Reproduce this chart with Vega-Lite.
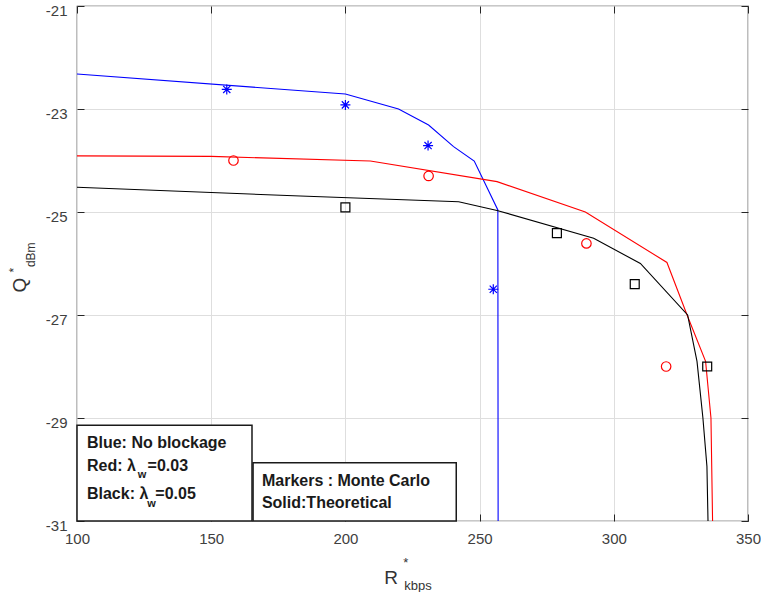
{
  "$schema": "https://vega.github.io/schema/vega-lite/v6.json",
  "width": 671,
  "height": 515,
  "autosize": {"type": "none"},
  "padding": {"left": 77, "top": 6, "right": 13, "bottom": 71},
  "background": "white",
  "config": {
    "view": {"stroke": "#262626", "strokeWidth": 1.2},
    "font": "Liberation Sans",
    "axis": {
      "labelFont": "Liberation Sans",
      "labelFontSize": 15,
      "labelColor": "#404040",
      "tickColor": "#262626",
      "gridColor": "#dedede",
      "gridWidth": 1,
      "domain": false,
      "title": null,
      "labelFlush": false,
      "labelOverlap": false
    }
  },
  "datasets": {
    "theory": [
      {"series": "No blockage", "R": 100, "Q": -22.32},
      {"series": "No blockage", "R": 200, "Q": -22.71},
      {"series": "No blockage", "R": 219.8, "Q": -23.0},
      {"series": "No blockage", "R": 231, "Q": -23.31},
      {"series": "No blockage", "R": 240.3, "Q": -23.73},
      {"series": "No blockage", "R": 248, "Q": -24.01},
      {"series": "No blockage", "R": 256.8, "Q": -24.96},
      {"series": "No blockage", "R": 256.9, "Q": -31},
      {"series": "λw=0.03", "R": 100, "Q": -23.91},
      {"series": "λw=0.03", "R": 150, "Q": -23.92},
      {"series": "λw=0.03", "R": 209.3, "Q": -24.01},
      {"series": "λw=0.03", "R": 256.5, "Q": -24.41},
      {"series": "λw=0.03", "R": 289.4, "Q": -25.0},
      {"series": "λw=0.03", "R": 319.8, "Q": -25.98},
      {"series": "λw=0.03", "R": 327.3, "Q": -27.0},
      {"series": "λw=0.03", "R": 334.2, "Q": -27.9},
      {"series": "λw=0.03", "R": 336.2, "Q": -29.0},
      {"series": "λw=0.03", "R": 336.8, "Q": -31},
      {"series": "λw=0.05", "R": 100, "Q": -24.52},
      {"series": "λw=0.05", "R": 183.2, "Q": -24.69},
      {"series": "λw=0.05", "R": 242.2, "Q": -24.8},
      {"series": "λw=0.05", "R": 256.5, "Q": -24.97},
      {"series": "λw=0.05", "R": 292.5, "Q": -25.51},
      {"series": "λw=0.05", "R": 309.9, "Q": -26.0},
      {"series": "λw=0.05", "R": 327.5, "Q": -27.0},
      {"series": "λw=0.05", "R": 331.0, "Q": -27.9},
      {"series": "λw=0.05", "R": 333.2, "Q": -29.0},
      {"series": "λw=0.05", "R": 334.7, "Q": -29.94},
      {"series": "λw=0.05", "R": 335.1, "Q": -31}
    ],
    "montecarlo": [
      {"series": "No blockage", "R": 155.8, "Q": -22.62},
      {"series": "No blockage", "R": 200, "Q": -22.92},
      {"series": "No blockage", "R": 230.8, "Q": -23.71},
      {"series": "No blockage", "R": 255.1, "Q": -26.5},
      {"series": "λw=0.03", "R": 158.3, "Q": -24.0},
      {"series": "λw=0.03", "R": 231, "Q": -24.3},
      {"series": "λw=0.03", "R": 289.8, "Q": -25.61},
      {"series": "λw=0.03", "R": 319.5, "Q": -28.0},
      {"series": "λw=0.05", "R": 200, "Q": -24.91},
      {"series": "λw=0.05", "R": 278.8, "Q": -25.41},
      {"series": "λw=0.05", "R": 307.8, "Q": -26.4},
      {"series": "λw=0.05", "R": 334.8, "Q": -28.0}
    ],
    "boxes": [
      {"R1": 100, "R2": 165.2, "Q1": -31, "Q2": -29.14},
      {"R1": 165.6, "R2": 241.3, "Q1": -31, "Q2": -29.87}
    ],
    "legendText": [
      {"R": 103.7, "Q": -29.59, "text": "Blue: No blockage"},
      {"R": 103.7, "Q": -30.03, "text": "Red: λ"},
      {"R": 126.3, "Q": -30.03, "text": "=0.03"},
      {"R": 103.7, "Q": -30.57, "text": "Black: λ"},
      {"R": 129.2, "Q": -30.57, "text": "=0.05"},
      {"R": 168.9, "Q": -30.32, "text": "Markers : Monte Carlo"},
      {"R": 168.9, "Q": -30.75, "text": "Solid:Theoretical"}
    ],
    "legendSub": [
      {"R": 122.6, "Q": -30.17, "text": "w"},
      {"R": 126.2, "Q": -30.73, "text": "w"}
    ],
    "xTitleBig": [
      {"R": 214.5, "Q": -32.22, "text": "R"}
    ],
    "xTitleSmall": [
      {"R": 221.9, "Q": -32.34, "text": "kbps"},
      {"R": 221.6, "Q": -31.9, "text": "*"}
    ],
    "yTitleBig": [
      {"R": 81.0, "Q": -26.42, "text": "Q"}
    ],
    "yTitleSmall": [
      {"R": 84.5, "Q": -25.83, "text": "dBm"},
      {"R": 77.9, "Q": -26.13, "text": "*"}
    ]
  },
  "resolve": {"axis": {"x": "independent", "y": "independent"}},
  "layer": [
    {
      "data": {"name": "theory"},
      "mark": {"type": "line", "strokeWidth": 1.1},
      "encoding": {
        "x": {"field": "R", "type": "quantitative",
              "scale": {"domain": [100, 350], "nice": false, "zero": false},
              "axis": {"orient": "bottom", "values": [100, 150, 200, 250, 300, 350], "grid": true, "tickSize": -7, "labelPadding": 17}},
        "y": {"field": "Q", "type": "quantitative",
              "scale": {"domain": [-31, -21], "nice": false, "zero": false},
              "axis": {"orient": "left", "values": [-31, -29, -27, -25, -23, -21], "grid": true, "tickSize": -7, "labelPadding": 17, "labelOffset": 4, "labelExpr": "'' + datum.value"}},
        "color": {"field": "series", "type": "nominal",
                  "scale": {"domain": ["No blockage", "λw=0.03", "λw=0.05"], "range": ["#0000ff", "#ff0000", "#000000"]},
                  "legend": null}
      }
    },
    {
      "data": {"name": "montecarlo"},
      "mark": {"type": "point", "filled": false, "strokeWidth": 1.2, "opacity": 1},
      "encoding": {
        "x": {"field": "R", "type": "quantitative",
              "scale": {"domain": [100, 350], "nice": false, "zero": false},
              "axis": {"orient": "top", "values": [100, 150, 200, 250, 300, 350], "grid": false, "labels": false, "tickSize": -7}},
        "y": {"field": "Q", "type": "quantitative",
              "scale": {"domain": [-31, -21], "nice": false, "zero": false},
              "axis": {"orient": "right", "values": [-31, -29, -27, -25, -23, -21], "grid": false, "labels": false, "tickSize": -7}},
        "color": {"field": "series", "type": "nominal",
                  "scale": {"domain": ["No blockage", "λw=0.03", "λw=0.05"], "range": ["#0000ff", "#ff0000", "#000000"]},
                  "legend": null},
        "shape": {"field": "series", "type": "nominal",
                  "scale": {"domain": ["No blockage", "λw=0.03", "λw=0.05"], "range": ["M-1,0L1,0M0,-1L0,1M-0.72,-0.72L0.72,0.72M-0.72,0.72L0.72,-0.72", "circle", "square"]},
                  "legend": null},
        "size": {"field": "series", "type": "nominal",
                 "scale": {"domain": ["No blockage", "λw=0.03", "λw=0.05"], "range": [100, 80, 60]},
                 "legend": null}
      }
    },
    {
      "data": {"name": "boxes"},
      "mark": {"type": "rect", "fill": "white", "stroke": "#1a1a1a", "strokeWidth": 1.5},
      "encoding": {
        "x": {"field": "R1", "type": "quantitative", "scale": {"domain": [100, 350], "nice": false, "zero": false}, "axis": null},
        "x2": {"field": "R2"},
        "y": {"field": "Q1", "type": "quantitative", "scale": {"domain": [-31, -21], "nice": false, "zero": false}, "axis": null},
        "y2": {"field": "Q2"}
      }
    },
    {
      "data": {"name": "legendText"},
      "mark": {"type": "text", "font": "Liberation Sans", "fontWeight": "bold", "fontSize": 16, "align": "left", "baseline": "alphabetic", "color": "#1a1a1a"},
      "encoding": {
        "x": {"field": "R", "type": "quantitative", "scale": {"domain": [100, 350], "nice": false, "zero": false}, "axis": null},
        "y": {"field": "Q", "type": "quantitative", "scale": {"domain": [-31, -21], "nice": false, "zero": false}, "axis": null},
        "text": {"field": "text"}
      }
    },
    {
      "data": {"name": "legendSub"},
      "mark": {"type": "text", "font": "Liberation Sans", "fontWeight": "bold", "fontSize": 11, "align": "left", "baseline": "alphabetic", "color": "#1a1a1a"},
      "encoding": {
        "x": {"field": "R", "type": "quantitative", "scale": {"domain": [100, 350], "nice": false, "zero": false}, "axis": null},
        "y": {"field": "Q", "type": "quantitative", "scale": {"domain": [-31, -21], "nice": false, "zero": false}, "axis": null},
        "text": {"field": "text"}
      }
    },
    {
      "data": {"name": "xTitleBig"},
      "mark": {"type": "text", "font": "Liberation Sans", "fontSize": 19, "align": "left", "baseline": "alphabetic", "color": "#333333"},
      "encoding": {
        "x": {"field": "R", "type": "quantitative", "scale": {"domain": [100, 350], "nice": false, "zero": false}, "axis": null},
        "y": {"field": "Q", "type": "quantitative", "scale": {"domain": [-31, -21], "nice": false, "zero": false}, "axis": null},
        "text": {"field": "text"}
      }
    },
    {
      "data": {"name": "xTitleSmall"},
      "mark": {"type": "text", "font": "Liberation Sans", "fontSize": 13, "align": "left", "baseline": "alphabetic", "color": "#333333"},
      "encoding": {
        "x": {"field": "R", "type": "quantitative", "scale": {"domain": [100, 350], "nice": false, "zero": false}, "axis": null},
        "y": {"field": "Q", "type": "quantitative", "scale": {"domain": [-31, -21], "nice": false, "zero": false}, "axis": null},
        "text": {"field": "text"}
      }
    },
    {
      "data": {"name": "yTitleBig"},
      "mark": {"type": "text", "font": "Liberation Sans", "fontSize": 19, "align": "center", "baseline": "alphabetic", "angle": 270, "color": "#333333"},
      "encoding": {
        "x": {"field": "R", "type": "quantitative", "scale": {"domain": [100, 350], "nice": false, "zero": false}, "axis": null},
        "y": {"field": "Q", "type": "quantitative", "scale": {"domain": [-31, -21], "nice": false, "zero": false}, "axis": null},
        "text": {"field": "text"}
      }
    },
    {
      "data": {"name": "yTitleSmall"},
      "mark": {"type": "text", "font": "Liberation Sans", "fontSize": 12, "align": "center", "baseline": "alphabetic", "angle": 270, "color": "#333333"},
      "encoding": {
        "x": {"field": "R", "type": "quantitative", "scale": {"domain": [100, 350], "nice": false, "zero": false}, "axis": null},
        "y": {"field": "Q", "type": "quantitative", "scale": {"domain": [-31, -21], "nice": false, "zero": false}, "axis": null},
        "text": {"field": "text"}
      }
    }
  ]
}
